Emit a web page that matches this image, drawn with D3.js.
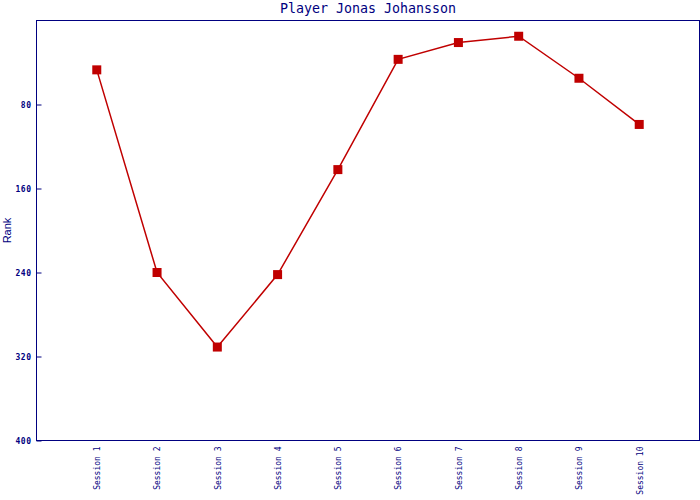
<!DOCTYPE html>
<html><head><meta charset="utf-8">
<script src="https://cdn.jsdelivr.net/npm/d3@7"></script>
<style>body{margin:0;background:#fff}svg{display:block}</style>
</head><body>
<svg id="c" width="700" height="500"></svg>
<script>
const sessions = ["Session 1","Session 2","Session 3","Session 4","Session 5","Session 6","Session 7","Session 8","Session 9","Session 10"];
const ranks = [47, 240, 311, 242, 142, 37, 21, 15, 55, 99];
const yTicks = [80, 160, 240, 320, 400];
const title = "Player Jonas Johansson";
const yLabel = "Rank";

const navy = "#000080", red = "#c00000";
const m = {l:36.5, t:20.5, r:699.5, b:440.5};
const svg = d3.select("#c");
const x = d3.scalePoint().domain(sessions).range([m.l, m.r]).padding(1);
const y = d3.scaleLinear().domain([0, 400]).range([m.t, m.b]);

svg.append("rect").attr("x", m.l).attr("y", m.t).attr("width", m.r-m.l).attr("height", m.b-m.t)
  .attr("fill","none").attr("stroke", navy).attr("stroke-width",1);

const ya = svg.append("g").attr("transform", `translate(${m.l},0)`)
  .call(d3.axisRight(y).tickValues(yTicks).tickSize(5).tickFormat(d3.format("d")));
ya.select(".domain").remove();
ya.selectAll(".tick line").attr("stroke", navy);
ya.selectAll(".tick text").attr("x", -5).attr("text-anchor","end").attr("dy","0.35em")
  .attr("fill", navy).attr("font-family","DejaVu Sans Mono").attr("font-size", 8).attr("font-weight","bold")
  .attr("letter-spacing", 0.5);

const xa = svg.append("g").attr("transform", `translate(0,${m.b})`)
  .call(d3.axisBottom(x).tickSize(0));
xa.select(".domain").remove();
xa.selectAll(".tick text").attr("transform","rotate(-90)").attr("x", -6).attr("y", 0).attr("dy","0.35em")
  .attr("text-anchor","end").attr("fill", navy).attr("font-family","DejaVu Sans Mono").attr("font-size", 8);

svg.append("path").datum(ranks.map((v,i)=>[x(sessions[i]), y(v)]))
  .attr("d", d3.line()).attr("fill","none").attr("stroke", red).attr("stroke-width",1.5);

svg.selectAll("rect.pt").data(ranks).join("rect").attr("class","pt")
  .attr("x",(d,i)=>x(sessions[i])-4.5).attr("y",d=>y(d)-4.5).attr("width",9).attr("height",9).attr("fill", red);

svg.append("text").attr("x",(m.l+m.r)/2).attr("y",13).attr("text-anchor","middle")
  .attr("fill", navy).attr("font-family","DejaVu Sans Mono").attr("font-size",13.3).text(title);

svg.append("text").attr("transform",`translate(11,${(m.t+m.b)/2}) rotate(-90)`).attr("text-anchor","middle")
  .attr("fill", navy).attr("font-family","Liberation Sans, Arial").attr("font-size",11).text(yLabel);
</script>
</body></html>
